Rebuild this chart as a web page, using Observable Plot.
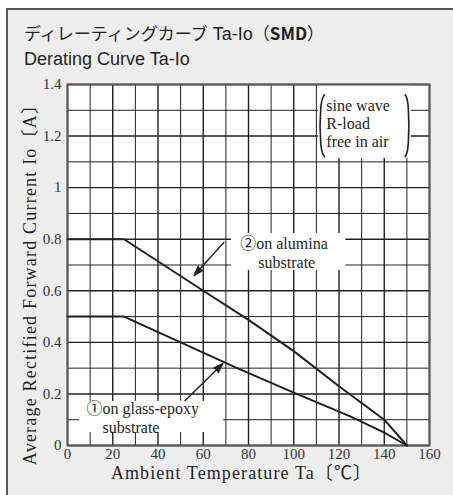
<!DOCTYPE html>
<html>
<head>
<meta charset="utf-8">
<script src="https://cdn.jsdelivr.net/npm/d3@7"></script>
<script src="https://cdn.jsdelivr.net/npm/@observablehq/plot@0.6"></script>
<style>
  html, body { margin: 0; padding: 0; background: #ffffff; }
  #wrap { position: relative; width: 453px; height: 495px; overflow: hidden; background: #ffffff; }
  #panel { position: absolute; left: 6px; top: 8px; width: 460px; height: 500px; background: #eeeeee; border-left: 2px solid #5a5856; border-top: 2px solid #5a5856; }
  #title { position: absolute; left: 24px; top: 20px; font-family: "Liberation Sans", "Noto Sans CJK JP", sans-serif; font-size: 18px; line-height: 25px; color: #231f20; }
  #chart { position: absolute; left: 0; top: 0; }
</style>
</head>
<body>
<div id="wrap">
  <div id="panel"></div>
  <div id="title"><div><span style="font-family:'Noto Sans CJK JP';font-size:17px">ディレーティングカーブ</span> Ta-Io<span style="font-family:'Noto Sans CJK JP';font-size:17px">（<b>SMD</b>）</span></div><div>Derating Curve Ta-Io</div></div>
  <div id="chart"></div>
</div>
<script>
// ---- data ----
const xTicks = [0, 20, 40, 60, 80, 100, 120, 140, 160];
const xTickLabels = ["0", "20", "40", "60", "80", "100", "120", "140", "160"];
const yTicks = [0, 0.2, 0.4, 0.6, 0.8, 1, 1.2, 1.4];
const yTickLabels = ["0", "0.2", "0.4", "0.6", "0.8", "1", "1.2", "1.4"];
const xMinor = [10, 30, 50, 70, 90, 110, 130, 150];
const yMinor = [0.1, 0.3, 0.5, 0.7, 0.9, 1.1, 1.3];

// curve ① on glass-epoxy substrate
const tempGlass = [0, 25, 50, 75, 100, 125, 140, 150];
const ioGlass   = [0.5, 0.5, 0.4, 0.3, 0.205, 0.113, 0.05, 0];
// curve ② on alumina substrate
const tempAlumina = [0, 25, 60, 80, 100, 120, 140, 150];
const ioAlumina   = [0.8, 0.8, 0.6, 0.487, 0.366, 0.23, 0.1, 0];

const xLabel = "Ambient Temperature Ta〔℃〕";
const yLabel = "Average Rectified Forward Current Io〔A〕";

// annotation text (data coordinates)
const noteText = ["①on glass-epoxy", "substrate", "②on alumina", "substrate"];
const noteX = [8.4, 15.5, 95.7, 96.9];
const noteY = [0.143, 0.07, 0.783, 0.71];
const noteAnchor = ["start", "start", "middle", "middle"];

const legendText = ["sine wave", "R-load", "free in air"];
const legendX = [114.4, 114.4, 114.4];
const legendY = [1.318, 1.249, 1.178];

// white backing boxes behind annotations
const boxX1 = [5.3, 72.5, 111];
const boxX2 = [69, 123, 152];
const boxY1 = [0.05, 0.679, 1.113];
const boxY2 = [0.171, 0.822, 1.4];

// arrows
const arrowX1 = [51.9, 69.1];
const arrowY1 = [0.174, 0.787];
const arrowX2 = [68.7, 55.9];
const arrowY2 = [0.318, 0.659];

// legend brackets
const bracketLeftX = [113.6, 111.6, 111.6, 113.6];
const bracketRightX = [149.3, 150.9, 150.9, 149.3];
const bracketY = [1.36, 1.335, 1.145, 1.12];

// ---- build ----
const glass = tempGlass.map((t, i) => ({t, io: ioGlass[i]}));
const alumina = tempAlumina.map((t, i) => ({t, io: ioAlumina[i]}));
const notes = noteText.map((s, i) => ({s, x: noteX[i], y: noteY[i], a: noteAnchor[i]}));
const legend = legendText.map((s, i) => ({s, x: legendX[i], y: legendY[i]}));
const boxes = boxX1.map((v, i) => ({x1: v, x2: boxX2[i], y1: boxY1[i], y2: boxY2[i]}));
const arrows = arrowX1.map((v, i) => ({x1: v, y1: arrowY1[i], x2: arrowX2[i], y2: arrowY2[i]}));
const bl = bracketY.map((y, i) => ({x: bracketLeftX[i], y}));
const br = bracketY.map((y, i) => ({x: bracketRightX[i], y}));

const ink = "#231f20";
const serif = "'Liberation Serif', 'Noto Sans CJK JP', serif";

const chart = Plot.plot({
  width: 453,
  height: 495,
  marginLeft: 67,
  marginRight: 24,
  marginTop: 84,
  marginBottom: 50,
  style: {background: "transparent", fontFamily: serif, color: ink},
  x: {domain: [0, 160]},
  y: {domain: [0, 1.4]},
  marks: [
    Plot.frame({fill: "white", stroke: null}),
    Plot.gridX(xMinor, {stroke: ink, strokeOpacity: 1, strokeWidth: 1}),
    Plot.gridY(yMinor, {stroke: ink, strokeOpacity: 1, strokeWidth: 1}),
    Plot.gridX(xTicks, {stroke: ink, strokeOpacity: 1, strokeWidth: 1.4}),
    Plot.gridY(yTicks, {stroke: ink, strokeOpacity: 1, strokeWidth: 1.4}),
    Plot.rect(boxes, {x1: "x1", x2: "x2", y1: "y1", y2: "y2", fill: "white"}),
    Plot.frame({stroke: "#5a5450", strokeWidth: 2}),
    Plot.axisX(xTicks, {tickSize: 0, tickPadding: 3, fontSize: 15, label: null, tickFormat: (d, i) => xTickLabels[i], fill: "#333"}),
    Plot.axisY(yTicks, {tickSize: 0, tickPadding: 6, fontSize: 15, label: null, tickFormat: (d, i) => yTickLabels[i], fill: "#333"}),
    Plot.line(glass, {x: "t", y: "io", stroke: ink, strokeWidth: 2}),
    Plot.line(alumina, {x: "t", y: "io", stroke: ink, strokeWidth: 2}),
    Plot.line(bl, {x: "x", y: "y", stroke: ink, strokeWidth: 1.6, curve: "basis"}),
    Plot.line(br, {x: "x", y: "y", stroke: ink, strokeWidth: 1.6, curve: "basis"}),
    Plot.arrow(arrows, {x1: "x1", y1: "y1", x2: "x2", y2: "y2", stroke: ink, strokeWidth: 1.4, headLength: 11, headAngle: 36}),
    Plot.text(notes, {x: "x", y: "y", text: "s", textAnchor: "start", fontSize: 16, fill: ink, filter: d => d.a === "start"}),
    Plot.text(notes, {x: "x", y: "y", text: "s", textAnchor: "middle", fontSize: 16, fill: ink, filter: d => d.a === "middle"}),
    Plot.text(legend, {x: "x", y: "y", text: "s", textAnchor: "start", fontSize: 16, fill: ink}),
    Plot.text([xLabel], {text: d => d, frameAnchor: "bottom", textAnchor: "middle", dy: 33, dx: -7, fontSize: 18, fill: ink}),
    Plot.text([yLabel], {text: d => d, frameAnchor: "left", textAnchor: "middle", rotate: -90, dx: -37, dy: 15, fontSize: 18, fill: ink})
  ]
});
d3.select(chart).selectAll("text").filter(function() { return this.textContent === xLabel; }).style("letter-spacing", "1.1px");
d3.select(chart).selectAll("text").filter(function() { return this.textContent === yLabel; }).style("letter-spacing", "1.2px");
// filled arrow heads: arrow paths contain two move-to commands
d3.select(chart).selectAll("path").filter(function() {
  const d = this.getAttribute("d") || "";
  return (d.match(/M/g) || []).length === 2 && !this.closest("g[aria-label='line']");
}).each(function() {
  this.setAttribute("fill", ink);
  this.style.fill = ink;
  this.setAttribute("stroke-linejoin", "miter");
});
document.getElementById("chart").appendChild(chart);
</script>
</body>
</html>
